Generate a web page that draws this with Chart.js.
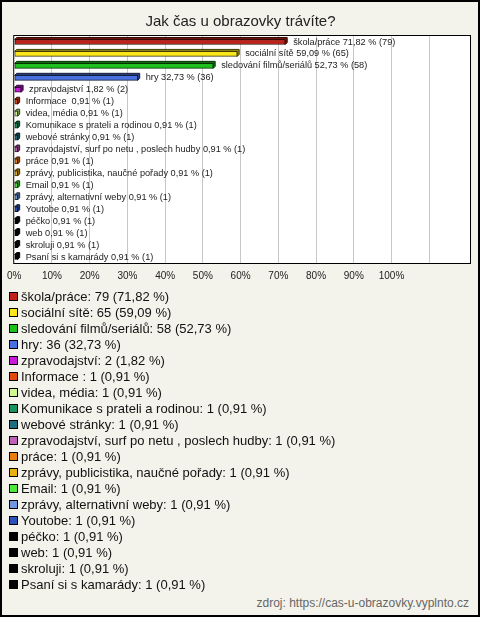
<!DOCTYPE html>
<html>
<head>
<meta charset="utf-8">
<script src="https://cdn.jsdelivr.net/npm/chart.js@4.4.1/dist/chart.umd.min.js"></script>
<style>
  body { margin: 0; }
  #box {
    position: relative; width: 480px; height: 617px;
    background: #f4f3eb; box-shadow: inset 0 0 0 2px #000;
    font-family: "Liberation Sans", Arial, sans-serif;
  }
  #wrap { position: absolute; left: 0; top: 0; width: 480px; height: 296px; }
  #legend { position: absolute; left: 9px; top: 289px; margin: 0; padding: 0; list-style: none; }
  #legend li { height: 16px; line-height: 16px; font-size: 13px; color: #111; white-space: nowrap; }
  #legend span { display: inline-block; width: 7px; height: 7px; border: 1px solid #000; margin-right: 3px; vertical-align: -0px; }
  #src { position: absolute; right: 11px; top: 596px; font-size: 12px; color: #666; }
</style>
</head>
<body>
<div id="box">
  <div id="wrap"><canvas id="chart"></canvas></div>
  <ul id="legend"></ul>
  <div id="src">zdroj: https://cas-u-obrazovky.vyplnto.cz</div>
</div>
<script>
const labels = ['škola/práce', 'sociální sítě', 'sledování filmů/seriálů', 'hry', 'zpravodajství',
  'Informace ', 'videa, média', 'Komunikace s prateli a rodinou', 'webové stránky',
  'zpravodajství, surf po netu , poslech hudby', 'práce', 'zprávy, publicistika, naučné pořady',
  'Email', 'zprávy, alternativní weby', 'Youtobe', 'péčko', 'web', 'skroluji', 'Psaní si s kamarády']
const counts = [79, 65, 58, 36, 2, 1, 1, 1, 1, 1, 1, 1, 1, 1, 1, 1, 1, 1, 1]
const percents = [71.82, 59.09, 52.73, 32.73, 1.82, 0.91, 0.91, 0.91, 0.91, 0.91, 0.91, 0.91,
  0.91, 0.91, 0.91, 0.91, 0.91, 0.91, 0.91]
const colors = ['#c0221a', '#fbe61c', '#1dc01d', '#4a6fe0', '#c81ad8', '#e04a10', '#cff88e',
  '#19925e', '#1c6f80', '#c060b8', '#e87d12', '#e8b010', '#4de83a', '#7098e0', '#2c52b8',
  '#000000', '#000000', '#000000', '#000000']
const xTicks = [0, 10, 20, 30, 40, 50, 60, 70, 80, 90, 100, 110]

const fmt = v => v.toFixed(2).replace('.', ',')

function shade(hex, f) {
  const n = parseInt(hex.slice(1), 16)
  const r = Math.round(((n >> 16) & 255) * f)
  const g = Math.round(((n >> 8) & 255) * f)
  const b = Math.round((n & 255) * f)
  return `rgb(${r},${g},${b})`
}

// legend in html
const ul = document.getElementById('legend')
for (let i = 0; i < labels.length; i++) {
  const li = document.createElement('li')
  li.innerHTML = `<span style="background:${colors[i]}"></span>` +
    `${labels[i]}: ${counts[i]} (${fmt(percents[i])} %)`
  ul.appendChild(li)
}

// white plot box + black frame
const plotBox = {
  id: 'plotBox',
  beforeDraw(chart) {
    const {ctx, chartArea: a} = chart
    ctx.save()
    ctx.fillStyle = '#fff'
    ctx.fillRect(a.left, a.top, a.right - a.left, a.bottom - a.top)
    ctx.restore()
  },
  afterDraw(chart) {
    const {ctx, chartArea: a} = chart
    ctx.save()
    ctx.strokeStyle = '#000'
    ctx.lineWidth = 1
    ctx.strokeRect(a.left - 0.5, a.top - 0.5, a.right - a.left + 1, a.bottom - a.top + 1)
    ctx.restore()
  }
}

// 3d depth on bars + value labels
const depth = {
  id: 'depth',
  beforeDatasetsDraw(chart) {
    const ctx = chart.ctx
    const d = 2
    chart.getDatasetMeta(0).data.forEach((bar, i) => {
      const p = bar.getProps(['x', 'y', 'base', 'height'], true)
      const top = p.y - p.height / 2, bot = p.y + p.height / 2
      ctx.save()
      ctx.fillStyle = shade(colors[i], 0.6)
      ctx.strokeStyle = shade(colors[i], 0.25)
      ctx.lineWidth = 1
      ctx.beginPath()
      ctx.moveTo(p.base, top)
      ctx.lineTo(p.base + d, top - d)
      ctx.lineTo(p.x + d, top - d)
      ctx.lineTo(p.x + d, bot - d)
      ctx.lineTo(p.x, bot)
      ctx.lineTo(p.x, top)
      ctx.closePath()
      ctx.fill()
      ctx.stroke()
      ctx.restore()
    })
  },
  afterDatasetsDraw(chart) {
    const ctx = chart.ctx
    ctx.save()
    ctx.font = '9.2px "Liberation Sans", Arial, sans-serif'
    ctx.fillStyle = '#222'
    ctx.textBaseline = 'middle'
    chart.getDatasetMeta(0).data.forEach((bar, i) => {
      ctx.fillText(`${labels[i]} ${fmt(percents[i])} % (${counts[i]})`, bar.x + 8, bar.y)
    })
    ctx.restore()
  }
}

new Chart(document.getElementById('chart'), {
  type: 'bar',
  data: {
    labels: labels,
    datasets: [{
      data: percents,
      backgroundColor: colors,
      borderColor: colors.map(c => shade(c, 0.25)),
      borderWidth: 1,
      borderSkipped: false,
      barThickness: 5
    }]
  },
  options: {
    indexAxis: 'y',
    responsive: true,
    maintainAspectRatio: false,
    animation: false,
    layout: { padding: { left: 11, right: 10, top: 0, bottom: 7 } },
    plugins: {
      legend: { display: false },
      tooltip: { enabled: false },
      title: {
        display: true,
        text: 'Jak čas u obrazovky trávíte?',
        color: '#222',
        font: { family: '"Liberation Sans", Arial, sans-serif', size: 15, weight: 'normal' },
        padding: { top: 13, bottom: 5 }
      }
    },
    scales: {
      x: {
        min: 0, max: 120.8,
        afterBuildTicks: axis => { axis.ticks = xTicks.map(v => ({value: v})) },
        border: { display: false },
        grid: {
          drawTicks: false,
          color: ctx => ctx.tick && ctx.tick.value === 0 ? 'rgba(0,0,0,0)' : '#c8c8c8'
        },
        ticks: {
          padding: 7,
          color: '#222',
          font: { family: '"Liberation Sans", Arial, sans-serif', size: 10 },
          callback: v => v <= 100 ? v + '%' : ''
        }
      },
      y: { display: false }
    }
  },
  plugins: [plotBox, depth]
})
</script>
</body>
</html>
